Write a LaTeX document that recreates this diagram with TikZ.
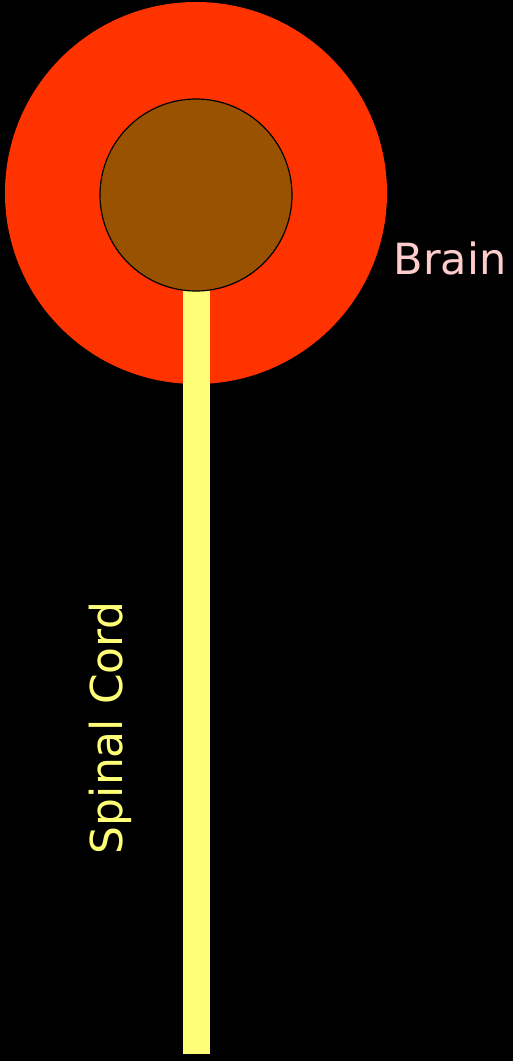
\documentclass[tikz,border=0pt]{standalone}
\usepackage{fontspec}
\setmainfont{DejaVu Sans}
\definecolor{outerred}{HTML}{FF3300}
\definecolor{innerbrown}{HTML}{995200}
\definecolor{cordyellow}{HTML}{FFFF77}
\definecolor{brainpink}{HTML}{FFCCCC}
\begin{document}
\begin{tikzpicture}[x=1pt, y=-1pt]
    \fill[black] (0,0) rectangle (513,1061);
    \useasboundingbox (0,0) rectangle (513,1061);
    \fill[outerred] (196,193) circle (191);
    \fill[cordyellow] (183,285) rectangle (210,1054);
    \filldraw[innerbrown, draw=black, line width=1.2pt] (196,195) circle (96);
    \node[font=\fontsize{43}{48}\selectfont, text=brainpink] (brain) at (450,258) {Brain};
    \node[rotate=90, font=\fontsize{44}{48}\selectfont, text=cordyellow] (cord) at (110,728) {Spinal Cord};
\end{tikzpicture}
\end{document}
